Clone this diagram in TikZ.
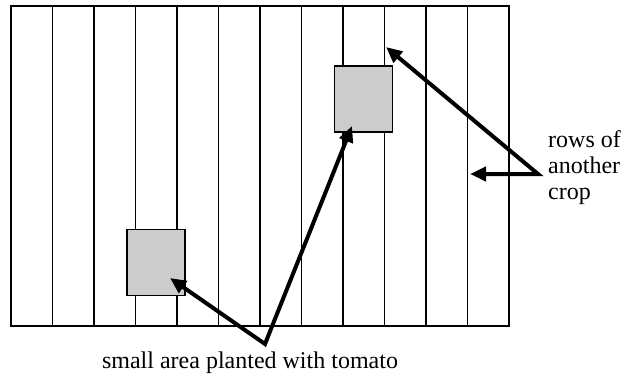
\documentclass[tikz,border=0pt]{standalone}
\usepackage{fontspec}
\setmainfont{Liberation Serif}
\usetikzlibrary{arrows.meta}
\tikzset{
  rowline/.style={line width=1.3pt},
  patch/.style={draw, line width=1.3pt, fill=black!20, minimum width=58pt, minimum height=66pt, inner sep=0pt},
  pointer/.style={line width=4pt, >={Triangle[length=16pt,width=14pt]}, <->},
  lbl/.style={font=\fontsize{24}{26}\selectfont, inner sep=0pt}
}
\begin{document}
\begin{tikzpicture}[x=1pt, y=-1pt]
  \useasboundingbox (0,0) rectangle (634,375);
  \foreach \k in {1,...,11}
    \draw[rowline] (11+41.5*\k,6) -- (11+41.5*\k,326);
  \draw[rowline] (11,6) rectangle (509,326);
  \node[patch] (patchA) at (156,262.5) {};
  \node[patch] (patchB) at (363.5,99) {};
  \coordinate (tipA) at (170,278);
  \coordinate (tipB) at (352,126);
  \coordinate (tomatoptr) at (265,344);
  \coordinate (rowA) at (470,174);
  \coordinate (rowB) at (386,47);
  \coordinate (rowsptr) at (538,174);
  \draw[pointer] (tipA) -- (tomatoptr) -- (tipB);
  \draw[pointer] (rowB) -- (rowsptr) -- (rowA);
  \node[lbl, anchor=base] (tomatolbl) at (250,368) {small area planted with tomato};
  \node[lbl, anchor=north west, align=left] (rowslbl) at (548,130) {rows of\\another\\crop};
\end{tikzpicture}
\end{document}
